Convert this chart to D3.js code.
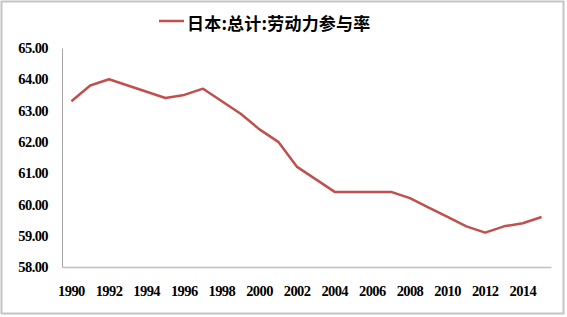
<!DOCTYPE html>
<html>
<head>
<meta charset="utf-8">
<script src="https://cdn.jsdelivr.net/npm/d3@7"></script>
<style>
  body { margin: 0; background: #fff; }
  svg { display: block; }
</style>
</head>
<body>
<svg id="chart"></svg>
<script>
const years = d3.range(1990, 2016);
const rates = [63.3, 63.8, 64.0, 63.8, 63.6, 63.4, 63.5, 63.7, 63.3, 62.9,
  62.4, 62.0, 61.2, 60.8, 60.4, 60.4, 60.4, 60.4, 60.2, 59.9,
  59.6, 59.3, 59.1, 59.3, 59.4, 59.6];
const yTicks = [58, 59, 60, 61, 62, 63, 64, 65];
const xLabels = d3.range(1990, 2016, 2);
const seriesName = '日本:总计:劳动力参与率';

const width = 567;
const height = 317;
const plotLeft = 62, plotRight = 551, plotTop = 48, plotBottom = 267;

const svg = d3.select('#chart').attr('width', width).attr('height', height);

svg.append('rect')
  .attr('x', 1.5).attr('y', 1.5)
  .attr('width', width - 5).attr('height', height - 5)
  .attr('fill', '#fff')
  .attr('stroke', '#c4c4c4')
  .attr('stroke-width', 2);

const x = d3.scaleBand().domain(years).range([plotLeft, plotRight]);
const y = d3.scaleLinear().domain([58, 65]).range([plotBottom, plotTop]);

const labelStyle = sel => sel
  .style('font-family', '"Liberation Serif", "Times New Roman", serif')
  .style('font-weight', 'bold')
  .style('font-size', '14.5px')
  .style('letter-spacing', '-0.6px')
  .attr('fill', '#000');

const yAxis = d3.axisLeft(y).tickValues(yTicks).tickFormat(d3.format('.2f')).tickSize(0).tickPadding(14);
svg.append('g')
  .attr('transform', 'translate(' + plotLeft + ',0)')
  .call(yAxis)
  .call(g => g.select('.domain').attr('stroke', '#a6a6a6'))
  .selectAll('text')
  .call(labelStyle);

const xAxis = d3.axisBottom(x)
  .tickValues(xLabels)
  .tickSize(0)
  .tickPadding(19);
svg.append('g')
  .attr('transform', 'translate(0,' + plotBottom + ')')
  .call(xAxis)
  .call(g => g.select('.domain').attr('stroke', '#bfbfbf').attr('stroke-width', 1.5))
  .selectAll('text')
  .call(labelStyle);

const line = d3.line()
  .x((d, i) => x(years[i]) + x.bandwidth() / 2)
  .y(d => y(d));

svg.append('path')
  .datum(rates)
  .attr('fill', 'none')
  .attr('stroke', '#c0504d')
  .attr('stroke-width', 2.5)
  .attr('stroke-linejoin', 'round')
  .attr('d', line);

// legend / title
const legend = svg.append('g');
legend.append('line')
  .attr('x1', 159).attr('x2', 184)
  .attr('y1', 21).attr('y2', 21)
  .attr('stroke', '#c0504d').attr('stroke-width', 2.5);
legend.append('text')
  .attr('x', 187).attr('y', 29.5)
  .style('font-family', '"Noto Sans CJK SC", sans-serif')
  .style('font-weight', 'bold')
  .style('font-size', '17px')
  .style('letter-spacing', '0.2px')
  .attr('fill', '#000')
  .text(seriesName);
</script>
</body>
</html>
